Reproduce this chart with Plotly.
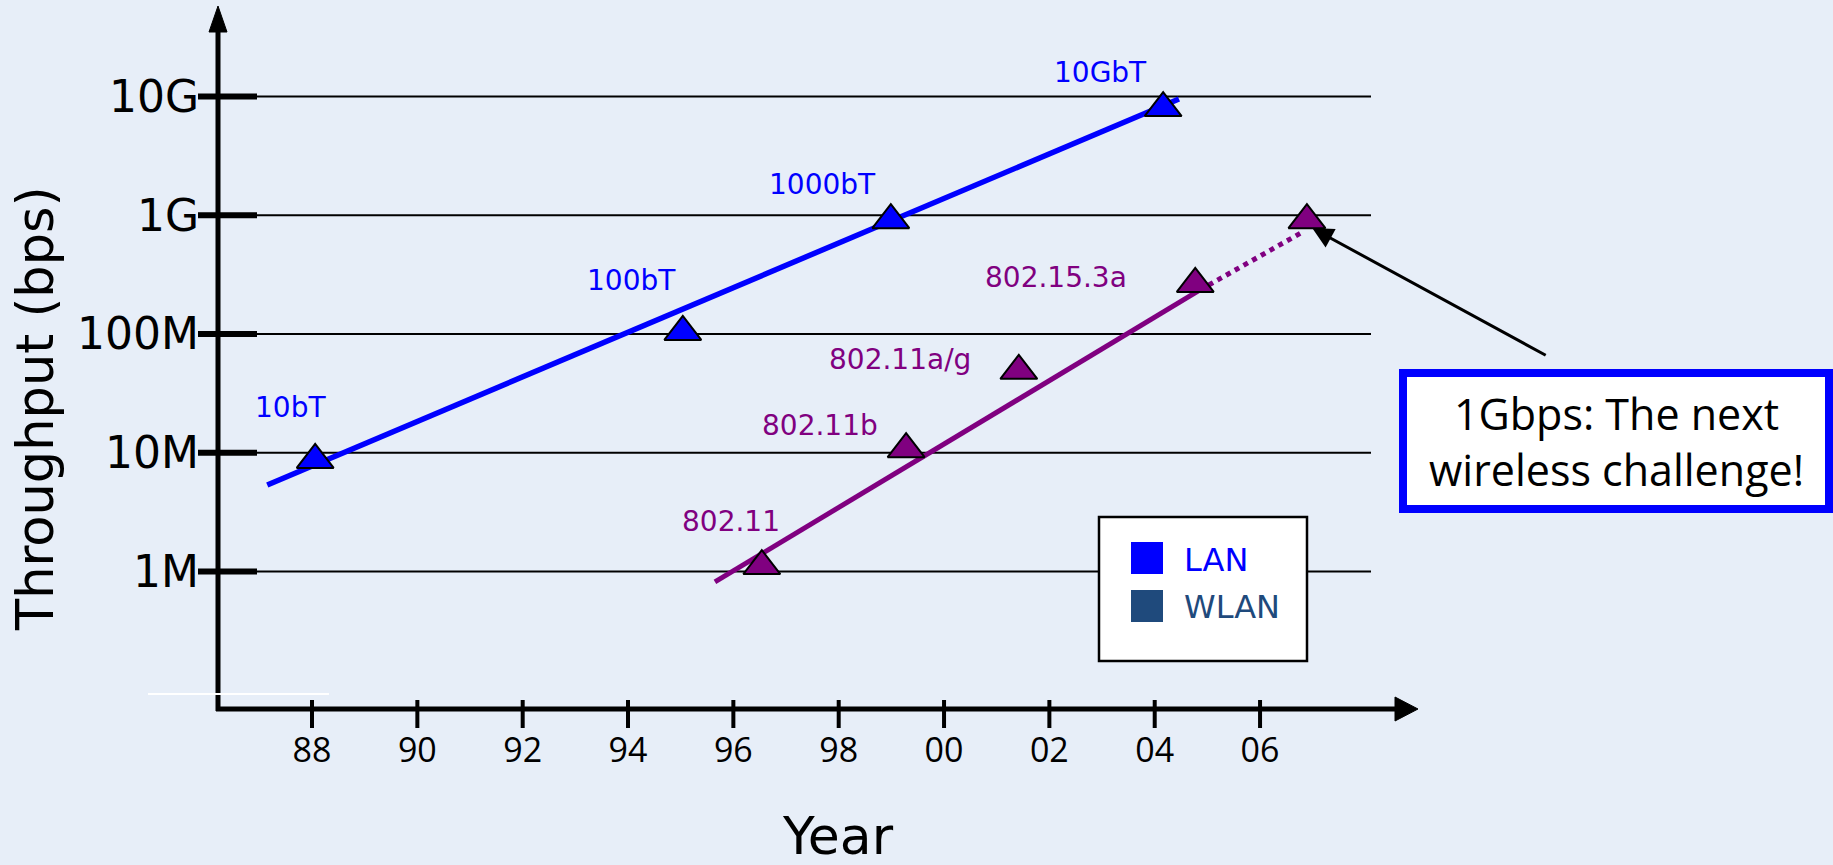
import math
import plotly.graph_objects as go

# ---- data -------------------------------------------------------------
# wired LAN generations
lan_names = ["10bT", "100bT", "1000bT", "10GbT"]
lan_years = [1988.06, 1995.04, 1998.99, 2004.16]
lan_bps = [8.7e6, 1.04e8, 9.1e8, 8.0e9]

# wireless LAN / PAN generations
wlan_names = ["802.11", "802.11b", "802.11a/g", "802.15.3a"]
wlan_years = [1996.54, 1999.28, 2001.42, 2004.77]
wlan_bps = [1.11e6, 1.07e7, 4.9e7, 2.64e8]

# next wireless target
target_years = [2006.89]
target_bps = [9.1e8]

# fitted growth trends
lan_trend_years = [1987.15, 2004.46]
lan_trend_bps = [5.35e6, 9.55e9]
wlan_trend_years = [1995.65, 2004.86]
wlan_trend_bps = [8.15e5, 2.35e8]
wlan_future_years = [2004.86, 2006.80]
wlan_future_bps = [2.35e8, 7.2e8]

year_ticks = [1988, 1990, 1992, 1994, 1996, 1998, 2000, 2002, 2004, 2006]
year_labels = ["88", "90", "92", "94", "96", "98", "00", "02", "04", "06"]
bps_ticks = [1e6, 1e7, 1e8, 1e9, 1e10]
bps_labels = ["1M", "10M", "100M", "1G", "10G"]

legend_names = ["LAN", "WLAN"]
callout_text = "1Gbps: The next<br>wireless challenge!"

# ---- styling ----------------------------------------------------------
W, H = 1833, 865
L, R, T, B = 218, 1418, 6, 709          # plot area in pixels
BG = "#E7EEF8"
BLUE = "#0000FF"
PURPLE = "#800080"
NAVY = "#1F4A7C"
HAND = "DejaVu Sans"
PLAIN = "Open Sans"

X_RANGE = [1986.215, 2008.999]
Y_RANGE = [4.8408, 10.7633]


def fx(px):
    return (px - L) / (R - L)


def fy(py):
    return (B - py) / (B - T)


fig = go.Figure()

# trend lines
fig.add_trace(go.Scatter(x=lan_trend_years, y=lan_trend_bps, mode="lines",
                         line=dict(color=BLUE, width=5.5), hoverinfo="skip"))
fig.add_trace(go.Scatter(x=wlan_trend_years, y=wlan_trend_bps, mode="lines",
                         line=dict(color=PURPLE, width=5), hoverinfo="skip"))
fig.add_trace(go.Scatter(x=wlan_future_years, y=wlan_future_bps, mode="lines",
                         line=dict(color=PURPLE, width=5, dash="dot"),
                         hoverinfo="skip"))

# technology markers
tri = dict(symbol="triangle-up", size=32, line=dict(color="black", width=2))
fig.add_trace(go.Scatter(x=lan_years, y=lan_bps, mode="markers",
                         marker=dict(color=BLUE, **tri), text=lan_names))
fig.add_trace(go.Scatter(x=wlan_years, y=wlan_bps, mode="markers",
                         marker=dict(color=PURPLE, **tri), text=wlan_names))
fig.add_trace(go.Scatter(x=target_years, y=target_bps, mode="markers",
                         marker=dict(color=PURPLE, **tri)))

shapes = []
# horizontal guide lines at each decade
for v in bps_ticks:
    shapes.append(dict(type="line", xref="paper", yref="y", x0=0, x1=fx(1371),
                       y0=v, y1=v, line=dict(color="black", width=2),
                       layer="below"))
    shapes.append(dict(type="line", xref="paper", yref="y", x0=fx(198),
                       x1=fx(257), y0=v, y1=v,
                       line=dict(color="black", width=6)))
# year ticks
for yr in year_ticks:
    shapes.append(dict(type="line", xref="x", yref="paper", x0=yr, x1=yr,
                       y0=fy(728), y1=fy(700),
                       line=dict(color="black", width=4)))
# axes with arrowheads
shapes.append(dict(type="line", xref="paper", yref="paper", x0=fx(216),
                   x1=fx(1400), y0=fy(709), y1=fy(709),
                   line=dict(color="black", width=5)))
shapes.append(dict(type="line", xref="paper", yref="paper", x0=fx(218),
                   x1=fx(218), y0=fy(711), y1=fy(25),
                   line=dict(color="black", width=5)))
shapes.append(dict(type="path", xref="paper", yref="paper",
                   path=f"M {fx(1418)},{fy(709)} L {fx(1395)},{fy(697)} "
                        f"L {fx(1395)},{fy(721)} Z",
                   fillcolor="black", line=dict(color="black", width=1)))
shapes.append(dict(type="path", xref="paper", yref="paper",
                   path=f"M {fx(218)},{fy(6)} L {fx(209)},{fy(32)} "
                        f"L {fx(227)},{fy(32)} Z",
                   fillcolor="black", line=dict(color="black", width=1)))
# stray white stroke under the axis corner
shapes.append(dict(type="line", xref="paper", yref="paper", x0=fx(148),
                   x1=fx(329), y0=fy(694), y1=fy(694),
                   line=dict(color="white", width=2)))
# legend frame and swatches
shapes.append(dict(type="rect", xref="paper", yref="paper", x0=fx(1099),
                   x1=fx(1307), y0=fy(661), y1=fy(517), fillcolor="white",
                   line=dict(color="black", width=2.5), layer="above"))
for i, col in enumerate([BLUE, NAVY]):
    top = 542 + 48 * i
    shapes.append(dict(type="rect", xref="paper", yref="paper", x0=fx(1131),
                       x1=fx(1163), y0=fy(top + 32), y1=fy(top),
                       fillcolor=col, line=dict(width=0), layer="above"))
# callout frame
shapes.append(dict(type="rect", xref="paper", yref="paper", x0=fx(1403),
                   x1=fx(1829), y0=fy(509), y1=fy(373), fillcolor="white",
                   line=dict(color=BLUE, width=8), layer="above"))

annotations = []
lan_offsets = [(-25, 52), (-51, 51), (-68, 36), (-63, 36)]
wlan_offsets = [(-31, 45), (-86, 24), (-119, 11), (-139, 6)]
for names, yrs, vals, offs, col in [
        (lan_names, lan_years, lan_bps, lan_offsets, BLUE),
        (wlan_names, wlan_years, wlan_bps, wlan_offsets, PURPLE)]:
    for n, yr, v, (dx, dy) in zip(names, yrs, vals, offs):
        annotations.append(dict(x=yr, y=math.log10(v), xref="x", yref="y",
                                text=n, showarrow=False, xshift=dx, yshift=dy,
                                xanchor="center", yanchor="middle",
                                font=dict(family=HAND, size=28, color=col)))

# pointer from the callout to the 1 Gbps target
annotations.append(dict(x=2006.99, y=math.log10(7.8e8), xref="x", yref="y",
                        ax=235, ay=128, text="", showarrow=True, arrowhead=2,
                        arrowsize=1.4, arrowwidth=3, arrowcolor="black",
                        standoff=0))
annotations.append(dict(x=fx(1616), y=fy(442), xref="paper", yref="paper",
                        xanchor="center", yanchor="middle",
                        text=callout_text, showarrow=False,
                        font=dict(family=PLAIN, size=43, color="black")))
for i, (n, col) in enumerate(zip(legend_names, [BLUE, NAVY])):
    annotations.append(dict(x=fx(1182), y=fy(560 + 47 * i), xref="paper",
                            yref="paper", xanchor="left", yanchor="middle",
                            text=n, showarrow=False,
                            font=dict(family=HAND, size=32, color=col)))
annotations.append(dict(x=fx(35), y=fy(409), xref="paper", yref="paper",
                        xanchor="center", yanchor="middle",
                        text="Throughput (bps)", textangle=-90,
                        showarrow=False,
                        font=dict(family=HAND, size=51, color="black")))
annotations.append(dict(x=fx(838), y=fy(836), xref="paper", yref="paper",
                        xanchor="center", yanchor="middle",
                        text="Year", showarrow=False,
                        font=dict(family=HAND, size=52, color="black")))

fig.update_layout(
    width=W, height=H,
    margin=dict(l=L, r=W - R, t=T, b=H - B, pad=0),
    paper_bgcolor=BG, plot_bgcolor=BG,
    showlegend=False,
    shapes=shapes, annotations=annotations,
    xaxis=dict(range=X_RANGE, showgrid=False, zeroline=False, showline=False,
               tickmode="array", tickvals=year_ticks, ticktext=year_labels,
               ticks="", ticklabelstandoff=18,
               tickfont=dict(family=PLAIN, size=34, color="black")),
    yaxis=dict(type="log", range=Y_RANGE, showgrid=False, zeroline=False,
               showline=False, tickmode="array", tickvals=bps_ticks,
               ticktext=bps_labels, ticks="", ticklabelstandoff=18,
               tickfont=dict(family=HAND, size=44, color="black")),
)

fig.write_html("out.html")
